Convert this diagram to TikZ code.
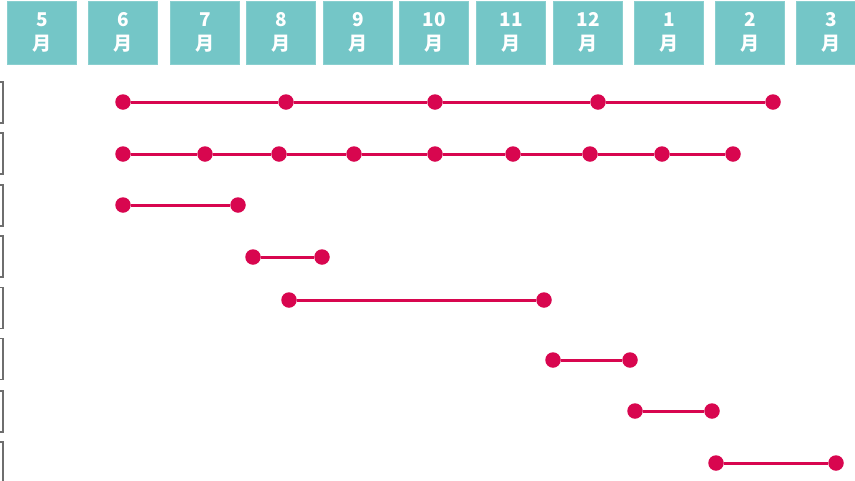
\documentclass[tikz,border=0pt]{standalone}
\usepackage{fontspec}
\newfontfamily\cjk{Noto Sans CJK SC}
\definecolor{headteal}{HTML}{74C6C7}
\definecolor{spanred}{HTML}{D8064F}
\definecolor{framegray}{HTML}{6E6E6E}
\tikzset{
  monthbox/.style={rectangle, fill=headteal, draw=headteal!85!white, line width=0.6pt,
    minimum width=69.5pt, minimum height=62.5pt, inner sep=0pt, align=center,
    text=white, font=\cjk\bfseries\fontsize{19}{24}\selectfont},
  labelbox/.style={rectangle, draw=framegray, line width=1.4pt,
    minimum width=60pt, minimum height=41pt, inner sep=0pt},
  dot/.style={circle, fill=spanred, minimum size=15.5pt, inner sep=0pt},
  span/.style={draw=spanred, line width=3pt}
}
\begin{document}
\begin{tikzpicture}[x=1pt, y=-1pt]
\useasboundingbox (0,0) rectangle (855,480);
\clip (0,0) rectangle (855,480);

% month header
\node[monthbox] (m5)  at (42,32.75)  {5\\月};
\node[monthbox] (m6)  at (123,32.75) {6\\月};
\node[monthbox] (m7)  at (205,32.75) {7\\月};
\node[monthbox] (m8)  at (281,32.75) {8\\月};
\node[monthbox] (m9)  at (358,32.75) {9\\月};
\node[monthbox] (m10) at (434,32.75) {10\\月};
\node[monthbox] (m11) at (511,32.75) {11\\月};
\node[monthbox] (m12) at (588,32.75) {12\\月};
\node[monthbox] (m1)  at (669,32.75) {1\\月};
\node[monthbox] (m2)  at (750,32.75) {2\\月};
\node[monthbox] (m3)  at (831,32.75) {3\\月};

% row label frames at the left edge
\node[labelbox] (lab1) at (-27,102.5) {};
\node[labelbox] (lab2) at (-27,153.5) {};
\node[labelbox] (lab3) at (-27,205.5) {};
\node[labelbox] (lab4) at (-27,256.5) {};
\node[labelbox] (lab5) at (-27,308) {};
\node[labelbox] (lab6) at (-27,359) {};
\node[labelbox] (lab7) at (-27,411.5) {};
\node[labelbox] (lab8) at (-27,462.5) {};

% milestones
\node[dot] (a1) at (123,102) {};
\node[dot] (a2) at (286,102) {};
\node[dot] (a3) at (435,102) {};
\node[dot] (a4) at (598,102) {};
\node[dot] (a5) at (773,102) {};

\node[dot] (b1) at (123,154) {};
\node[dot] (b2) at (205,154) {};
\node[dot] (b3) at (279,154) {};
\node[dot] (b4) at (354,154) {};
\node[dot] (b5) at (435,154) {};
\node[dot] (b6) at (513,154) {};
\node[dot] (b7) at (590,154) {};
\node[dot] (b8) at (662,154) {};
\node[dot] (b9) at (733,154) {};

\node[dot] (c1) at (123,205) {};
\node[dot] (c2) at (238,205) {};

\node[dot] (d1) at (253,257) {};
\node[dot] (d2) at (322,257) {};

\node[dot] (e1) at (289,300) {};
\node[dot] (e2) at (544,300) {};

\node[dot] (f1) at (553,360) {};
\node[dot] (f2) at (630,360) {};

\node[dot] (g1) at (635,411) {};
\node[dot] (g2) at (712,411) {};

\node[dot] (h1) at (716,463) {};
\node[dot] (h2) at (836,463) {};

% spans between milestones
\draw[span] (a1) -- (a2) -- (a3) -- (a4) -- (a5);
\draw[span] (b1) -- (b2) -- (b3) -- (b4) -- (b5) -- (b6) -- (b7) -- (b8) -- (b9);
\draw[span] (c1) -- (c2);
\draw[span] (d1) -- (d2);
\draw[span] (e1) -- (e2);
\draw[span] (f1) -- (f2);
\draw[span] (g1) -- (g2);
\draw[span] (h1) -- (h2);
\end{tikzpicture}
\end{document}
